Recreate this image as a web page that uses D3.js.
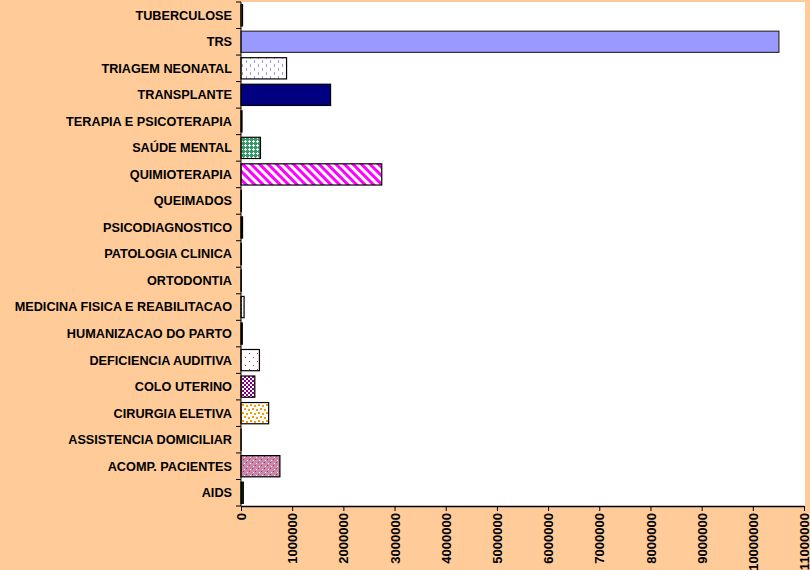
<!DOCTYPE html>
<html>
<head>
<meta charset="utf-8">
<script src="https://cdn.jsdelivr.net/npm/d3@7"></script>
<style>
  html, body { margin: 0; padding: 0; background: #FFCC99; }
  svg { display: block; }
</style>
</head>
<body>
<div id="chart"></div>
<script>
// categories, top to bottom
const categories = [
  "TUBERCULOSE", "TRS", "TRIAGEM NEONATAL", "TRANSPLANTE", "TERAPIA E PSICOTERAPIA",
  "SAÚDE MENTAL", "QUIMIOTERAPIA", "QUEIMADOS", "PSICODIAGNOSTICO", "PATOLOGIA CLINICA",
  "ORTODONTIA", "MEDICINA FISICA E REABILITACAO", "HUMANIZACAO DO PARTO",
  "DEFICIENCIA AUDITIVA", "COLO UTERINO", "CIRURGIA ELETIVA", "ASSISTENCIA DOMICILIAR",
  "ACOMP. PACIENTES", "AIDS"
];
const values = [
  30000, 10510000, 890000, 1750000, 20000,
  380000, 2750000, 8000, 30000, 8000,
  5000, 60000, 25000,
  360000, 270000, 540000, 3000,
  760000, 45000
];
const fills = [
  "#FF9900", "#9999FF", "url(#pTriagem)", "#000080", "url(#pGreenDash)",
  "url(#pSaude)", "url(#pQuimio)", "#333333", "#000000", "#333333",
  "#333333", "url(#pGreenDash)", "#000000",
  "url(#pDefic)", "url(#pColo)", "url(#pCirurgia)", "#333333",
  "url(#pAcomp)", "#003300"
];
const tickValues = [0, 1000000, 2000000, 3000000, 4000000, 5000000, 6000000,
  7000000, 8000000, 9000000, 10000000, 11000000];

const width = 810, height = 570;
const margin = { top: 2, right: 6, bottom: 64, left: 241 };
const font = "'Liberation Sans', Arial, sans-serif";

const svg = d3.select("#chart").append("svg")
    .attr("width", width)
    .attr("height", height)
    .style("font-family", font);

// patterns
const defs = svg.append("defs");
function pattern(id, w, h, bg, draw) {
  const p = defs.append("pattern").attr("id", id)
      .attr("patternUnits", "userSpaceOnUse").attr("width", w).attr("height", h);
  p.append("rect").attr("width", w).attr("height", h).attr("fill", bg);
  draw(p);
  return p;
}
pattern("pTriagem", 8, 8, "#fff", p => {
  p.append("rect").attr("x", 2).attr("y", 0).attr("width", 1).attr("height", 3).attr("fill", "#9999FF");
  p.append("rect").attr("x", 6).attr("y", 4).attr("width", 1).attr("height", 3).attr("fill", "#9999FF");
});
pattern("pGreenDash", 4, 4, "#fff", p => {
  p.append("rect").attr("x", 0).attr("y", 0).attr("width", 2).attr("height", 2).attr("fill", "#339933");
});
pattern("pSaude", 4, 4, "#339966", p => {
  p.append("rect").attr("x", 1).attr("y", 0).attr("width", 1).attr("height", 3).attr("fill", "#fff");
  p.append("rect").attr("x", 0).attr("y", 1).attr("width", 3).attr("height", 1).attr("fill", "#fff");
});
pattern("pQuimio", 6, 6, "#fff", p => {
  p.attr("patternTransform", "rotate(-45)");
  p.append("rect").attr("x", 0).attr("y", 0).attr("width", 3).attr("height", 6).attr("fill", "#FF00FF");
});
pattern("pDefic", 8, 8, "#fff", p => {
  p.append("rect").attr("x", 1).attr("y", 1).attr("width", 1).attr("height", 1).attr("fill", "#CC3333");
  p.append("rect").attr("x", 5).attr("y", 5).attr("width", 1).attr("height", 1).attr("fill", "#CC3333");
});
pattern("pColo", 4, 4, "#fff", p => {
  p.append("rect").attr("x", 0).attr("y", 0).attr("width", 2).attr("height", 2).attr("fill", "#800080");
  p.append("rect").attr("x", 2).attr("y", 2).attr("width", 2).attr("height", 2).attr("fill", "#800080");
});
pattern("pCirurgia", 8, 8, "#fff", p => {
  [[0, 1], [4, 0], [2, 4], [6, 5]].forEach(([x, y]) =>
    p.append("rect").attr("x", x).attr("y", y).attr("width", 2).attr("height", 2).attr("fill", "#FF9900"));
});
pattern("pAcomp", 6, 6, "#CC88AA", p => {
  p.append("rect").attr("x", 0).attr("y", 0).attr("width", 1).attr("height", 1).attr("fill", "#993366");
  p.append("rect").attr("x", 3).attr("y", 3).attr("width", 1).attr("height", 1).attr("fill", "#993366");
  p.append("rect").attr("x", 1).attr("y", 4).attr("width", 1).attr("height", 1).attr("fill", "#fff");
  p.append("rect").attr("x", 4).attr("y", 1).attr("width", 1).attr("height", 1).attr("fill", "#fff");
});

const x = d3.scaleLinear()
    .domain([0, 11000000])
    .range([margin.left, width - margin.right]);

const y = d3.scaleBand()
    .domain(categories)
    .range([margin.top, height - margin.bottom])
    .paddingInner(0.2)
    .paddingOuter(0.1);

// plot area
svg.append("rect")
    .attr("x", margin.left)
    .attr("y", margin.top)
    .attr("width", width - margin.right - margin.left + 1)
    .attr("height", height - margin.bottom - margin.top)
    .attr("fill", "#fff");

// bars
svg.append("g").selectAll("rect")
  .data(categories)
  .join("rect")
    .attr("x", x(0))
    .attr("y", d => y(d))
    .attr("width", (d, i) => x(values[i]) - x(0))
    .attr("height", y.bandwidth())
    .attr("fill", (d, i) => fills[i])
    .attr("stroke", (d, i) => i === 1 ? "#333" : "#000")
    .attr("stroke-width", 1.2);

// y axis
const step = y.step();
const bandTop = y(categories[0]) - (step - y.bandwidth()) / 2;
const yAxis = svg.append("g");
yAxis.append("line")
    .attr("x1", margin.left).attr("x2", margin.left)
    .attr("y1", margin.top).attr("y2", height - margin.bottom)
    .attr("stroke", "#000");
yAxis.selectAll("line.tick")
  .data(d3.range(categories.length + 1))
  .join("line")
    .attr("class", "tick")
    .attr("x1", margin.left - 5).attr("x2", margin.left)
    .attr("y1", i => bandTop + i * step)
    .attr("y2", i => bandTop + i * step)
    .attr("stroke", "#000");
yAxis.selectAll("text")
  .data(categories)
  .join("text")
    .attr("x", margin.left - 9)
    .attr("y", d => y(d) + y.bandwidth() / 2)
    .attr("dy", "0.35em")
    .attr("text-anchor", "end")
    .attr("font-size", 12.7)
    .attr("font-weight", "bold")
    .attr("fill", "#000")
    .text(d => d);

// x axis
const xAxis = svg.append("g")
    .attr("transform", `translate(0,${height - margin.bottom})`)
    .call(d3.axisBottom(x).tickValues(tickValues).tickFormat(d3.format("d")).tickSize(5).tickSizeOuter(0));
xAxis.select(".domain").attr("stroke", "#000").attr("stroke-width", 1.5);
xAxis.selectAll(".tick line").attr("stroke", "#000");
xAxis.selectAll(".tick text")
    .attr("transform", "rotate(-90)")
    .attr("text-anchor", "end")
    .attr("x", -7)
    .attr("y", 0)
    .attr("dy", "0.35em")
    .attr("font-size", 13)
    .attr("font-weight", "bold")
    .attr("font-family", font)
    .attr("fill", "#000");
</script>
</body>
</html>
